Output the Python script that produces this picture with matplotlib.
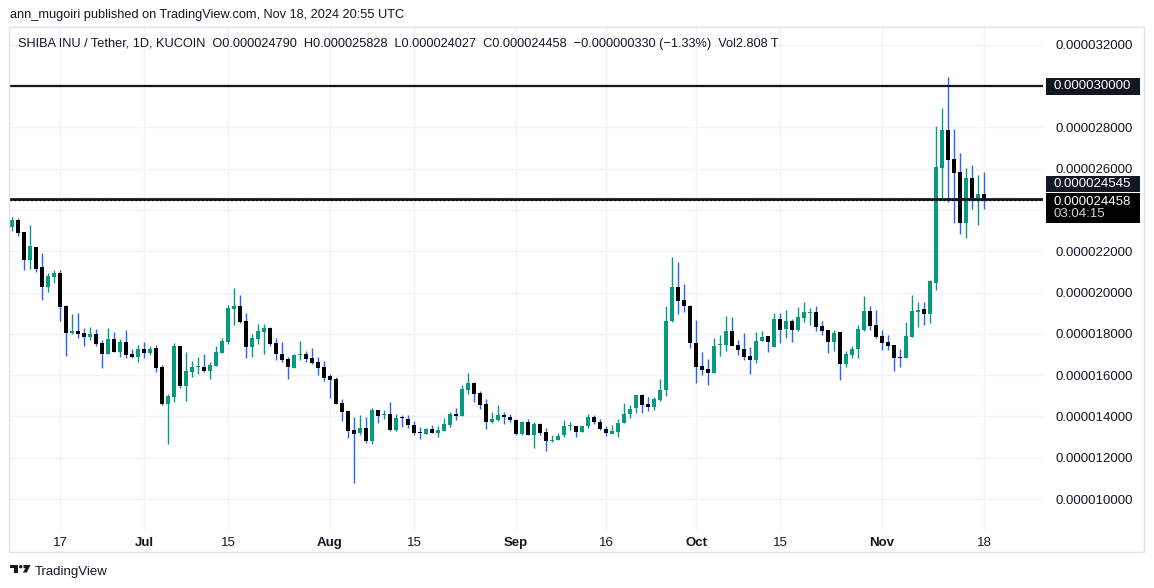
import matplotlib
matplotlib.use("Agg")
import matplotlib.pyplot as plt
import matplotlib.dates as mdates
import matplotlib.transforms as mtransforms
from matplotlib.patches import Rectangle, Polygon, Ellipse
import numpy as np
import pandas as pd

# prices in units of 1e-6 USDT
SCALE = 1e-6
first_day = "2024-06-09"

open_ = [
    23.18, 23.50, 22.92, 21.58, 22.19, 21.23, 20.27, 20.76, 20.94, 19.34,
    18.05, 18.13, 18.03, 17.85, 17.98, 17.55, 17.03, 17.74, 17.13, 17.60,
    17.02, 16.89, 17.26, 17.08, 17.31, 16.39, 14.61, 14.95, 17.40, 15.48,
    16.16, 16.37, 16.39, 16.19, 16.45, 17.06, 17.60, 19.19, 19.34, 18.61,
    17.37, 17.74, 18.10, 18.27, 17.55, 17.02, 16.77, 16.34, 16.98, 17.02,
    16.82, 16.63, 16.39, 15.95, 15.81, 14.65, 14.26, 13.34, 13.19, 13.44,
    12.81, 14.31, 14.06, 14.11, 13.34, 13.94, 13.87, 13.58, 13.24, 13.15,
    13.39, 13.19, 13.29, 13.58, 14.11, 14.02, 15.27, 15.61, 15.13, 14.60,
    13.73, 13.82, 14.06, 13.98, 13.84, 13.13, 13.71, 13.08, 13.61, 13.23,
    12.79, 12.84, 13.08, 13.52, 13.55, 13.23, 13.52, 13.98, 13.74, 13.40,
    13.13, 13.27, 13.66, 14.10, 14.39, 15.02, 14.58, 14.48, 14.81, 15.26,
    18.63, 20.27, 19.65, 19.35, 17.56, 16.42, 16.31, 16.08, 17.45, 17.44,
    18.15, 17.47, 17.27, 16.94, 16.74, 17.65, 17.89, 17.37, 18.71, 18.23,
    18.61, 18.18, 18.76, 19.02, 19.05, 18.37, 18.18, 17.60, 18.08, 16.53,
    16.97, 17.26, 18.18, 19.10, 18.42, 17.89, 17.60, 17.45, 16.85, 16.82,
    17.84, 19.05, 19.19, 18.98, 20.46, 26.05, 27.87, 26.47, 25.85, 23.35,
    25.56, 24.56, 24.790,
]
high = [
    23.68, 23.63, 22.95, 23.26, 22.19, 21.90, 20.97, 21.08, 21.08, 19.42,
    18.95, 19.00, 18.27, 18.32, 18.23, 17.68, 18.27, 18.08, 17.74, 18.18,
    17.26, 17.45, 17.60, 17.40, 17.45, 16.48, 15.08, 17.55, 17.40, 17.11,
    16.68, 16.87, 17.02, 16.63, 17.40, 17.79, 19.39, 20.21, 19.87, 19.00,
    17.98, 18.47, 18.47, 18.32, 17.79, 17.60, 16.87, 17.02, 17.65, 17.16,
    17.31, 16.87, 16.68, 16.05, 15.90, 14.84, 14.31, 13.97, 14.06, 13.97,
    14.40, 14.31, 14.31, 14.69, 14.11, 14.06, 14.06, 13.77, 13.48, 13.44,
    13.58, 13.53, 13.92, 14.21, 14.40, 15.52, 16.10, 15.66, 15.23, 14.84,
    14.21, 14.55, 14.21, 14.13, 13.89, 13.76, 13.89, 13.71, 13.66, 13.44,
    13.08, 13.21, 13.81, 13.71, 13.55, 13.55, 14.13, 14.08, 13.89, 13.55,
    13.60, 13.89, 14.63, 14.53, 15.06, 15.11, 14.92, 14.92, 15.79, 19.35,
    21.73, 21.48, 20.42, 19.40, 18.68, 17.13, 16.79, 17.81, 17.95, 18.87,
    18.82, 17.71, 18.05, 17.37, 18.10, 18.13, 17.89, 19.00, 19.00, 19.15,
    18.71, 19.29, 19.53, 19.24, 19.34, 18.61, 18.18, 18.18, 18.08, 17.16,
    17.40, 18.42, 19.82, 19.34, 19.15, 18.18, 17.94, 17.45, 17.26, 18.56,
    19.87, 19.53, 19.53, 20.60, 28.06, 28.93, 30.43, 27.92, 26.76, 26.04,
    26.18, 25.70, 25.828,
]
low = [
    22.98, 22.74, 21.10, 21.13, 21.00, 19.65, 20.03, 20.44, 18.63, 16.94,
    18.00, 17.81, 17.42, 17.71, 17.42, 16.35, 17.03, 17.13, 16.89, 16.84,
    16.84, 16.65, 16.84, 16.98, 16.16, 14.56, 12.66, 14.71, 15.39, 14.76,
    15.92, 16.06, 16.16, 15.82, 16.45, 17.06, 17.50, 18.44, 18.53, 16.84,
    16.89, 17.50, 17.02, 17.42, 16.73, 16.65, 15.81, 16.34, 16.73, 16.63,
    16.53, 16.00, 15.71, 14.89, 14.60, 13.77, 12.95, 10.79, 13.10, 12.71,
    12.66, 13.68, 13.87, 13.29, 13.29, 13.48, 13.44, 13.10, 12.90, 13.15,
    13.19, 13.00, 13.29, 13.48, 13.82, 14.02, 15.08, 14.69, 14.35, 13.39,
    13.68, 13.77, 13.63, 13.71, 13.08, 13.08, 13.08, 12.45, 13.08, 12.35,
    12.74, 12.84, 12.98, 13.32, 12.98, 13.23, 13.42, 13.61, 13.32, 13.03,
    13.13, 12.98, 13.66, 13.90, 14.15, 14.19, 14.24, 14.29, 14.77, 14.97,
    18.58, 18.97, 19.06, 17.32, 15.60, 16.03, 15.50, 16.08, 16.95, 17.15,
    17.42, 16.98, 16.74, 16.06, 16.60, 17.65, 17.11, 17.37, 17.55, 17.79,
    17.60, 18.13, 18.56, 18.42, 18.13, 17.94, 17.06, 17.16, 15.76, 16.39,
    16.82, 16.82, 18.13, 18.18, 17.79, 17.21, 17.21, 16.19, 16.39, 16.82,
    17.84, 18.32, 18.42, 18.53, 20.12, 24.50, 24.37, 23.35, 22.82, 22.63,
    24.03, 23.26, 24.027,
]
close = [
    23.50, 22.89, 21.58, 22.24, 21.15, 20.27, 20.79, 20.94, 19.31, 18.05,
    18.13, 18.00, 17.85, 17.98, 17.52, 17.03, 17.74, 17.13, 17.60, 16.98,
    16.89, 17.26, 17.08, 17.26, 16.35, 14.61, 14.98, 17.40, 15.48, 16.19,
    16.39, 16.39, 16.19, 16.48, 17.11, 17.65, 19.24, 19.34, 18.58, 17.37,
    17.79, 18.13, 18.27, 17.50, 17.02, 16.73, 16.39, 16.98, 17.00, 16.77,
    16.58, 16.34, 15.85, 15.76, 14.60, 14.21, 13.29, 13.15, 13.44, 12.81,
    14.31, 14.02, 14.08, 13.34, 13.92, 13.92, 13.58, 13.19, 13.21, 13.39,
    13.19, 13.34, 13.63, 14.11, 14.02, 15.32, 15.61, 15.08, 14.55, 13.73,
    13.87, 14.06, 13.97, 13.81, 13.13, 13.71, 13.08, 13.61, 13.18, 12.79,
    12.87, 13.06, 13.55, 13.55, 13.23, 13.55, 13.98, 13.71, 13.37, 13.18,
    13.31, 13.69, 14.13, 14.37, 15.02, 14.53, 14.48, 14.85, 15.29, 18.63,
    20.27, 19.60, 19.35, 17.56, 16.37, 16.27, 16.08, 17.42, 17.47, 18.15,
    17.42, 17.23, 16.89, 16.74, 17.66, 17.84, 17.60, 18.71, 18.18, 18.61,
    18.18, 18.81, 19.05, 19.05, 18.32, 18.13, 17.60, 18.03, 16.53, 17.02,
    17.26, 18.23, 19.10, 18.37, 17.84, 17.55, 17.40, 16.82, 16.82, 17.89,
    19.10, 19.15, 18.95, 20.54, 26.09, 27.87, 26.44, 25.81, 23.35, 25.56,
    24.56, 24.78, 24.458,
]

price_ticks = [10, 12, 14, 16, 18, 20, 22, 24, 26, 28, 30, 32]
hidden_ticks = [24, 30]
resistance = 30.0
support = 24.545
last_close = 24.458
countdown = "03:04:15"

tick_dates = ["2024-06-17", "2024-07-01", "2024-07-15", "2024-08-01", "2024-08-15",
              "2024-09-01", "2024-09-16", "2024-10-01", "2024-10-15", "2024-11-01",
              "2024-11-18"]
tick_labels = ["17", "Jul", "15", "Aug", "15", "Sep", "16", "Oct", "15", "Nov", "18"]

header = ("SHIBA INU / Tether, 1D, KUCOIN  O0.000024790  H0.000025828  "
          "L0.000024027  C0.000024458  \u22120.000000330 (\u22121.33%)  Vol2.808 T")
published = "ann_mugoiri published on TradingView.com, Nov 18, 2024 20:55 UTC"

UP = "#089981"
DOWN_BODY = "#000000"
DOWN_WICK = "#2962ff"
TEXT = "#131722"
GRID = "#f0f3fa"

plt.rcParams["font.family"] = ["Liberation Sans", "DejaVu Sans"]

W, H = 1154, 588
fig = plt.figure(figsize=(W / 100, H / 100), dpi=100)


def px(x0, y0, x1, y1):
    return [x0 / W, 1 - y1 / H, (x1 - x0) / W, (y1 - y0) / H]


ax = fig.add_axes(px(10, 27, 1043, 530))

dates = pd.date_range(first_day, periods=len(close))
x = mdates.date2num(dates.to_pydatetime())
o = np.array(open_)
c = np.array(close)
hi = np.array(high)
lo = np.array(low)
up = c >= o

ax.vlines(x, lo, hi, colors=np.where(up, UP, DOWN_WICK), linewidth=1, zorder=3)
bottoms = np.minimum(o, c)
heights = np.maximum(np.abs(c - o), 0.06)
ax.bar(x, heights, bottom=bottoms, width=0.82,
       color=np.where(up, UP, DOWN_BODY), linewidth=0, zorder=4)

# level lines
ax.axhline(resistance, color=TEXT, linewidth=1.6, zorder=5)
ax.axhline(support, color=TEXT, linewidth=2.0, zorder=5)
ax.axhline(last_close, color="#000000", linewidth=1.0, linestyle=(0, (1, 2)), zorder=5)

last = x[-1]
ax.set_xlim(last - 162.33, last + 9.83)
ax.set_ylim(8.50, 32.86)

ax.set_yticks(price_ticks)
ax.set_yticklabels(["" if t in hidden_ticks else f"{t * SCALE:.9f}" for t in price_ticks])
ax.yaxis.tick_right()
ax.tick_params(axis="y", length=0, pad=9, labelsize=9.5, labelcolor=TEXT)

tx = mdates.date2num(pd.to_datetime(tick_dates).to_pydatetime())
ax.set_xticks(tx)
ax.set_xticklabels(tick_labels)
ax.tick_params(axis="x", length=0, pad=5, labelsize=9.5, labelcolor=TEXT)
for lab in ax.get_xticklabels():
    if not lab.get_text().isdigit():
        lab.set_fontweight("bold")

ax.grid(True, color=GRID, linewidth=1, zorder=0)
ax.set_axisbelow(True)
for s in ax.spines.values():
    s.set_visible(False)

# price boxes on the right scale (offsets in pixels, positive = up)
trans = mtransforms.blended_transform_factory(ax.transAxes, ax.transData)
bx0 = (1046 - 10) / 1033
bw = (1140 - 1046) / 1033
tx0 = (1054 - 10) / 1033
unit = 1 / 20.65  # price units per pixel


def price_box(price, top_px, bot_px, face, lines):
    y_top = price + top_px * unit
    y_bot = price + bot_px * unit
    ax.add_patch(Rectangle((bx0, y_bot), bw, y_top - y_bot, transform=trans,
                           facecolor=face, edgecolor="none", clip_on=False, zorder=10))
    for txt, col, off in lines:
        ax.text(tx0, price + off * unit, txt, transform=trans, color=col,
                fontsize=9.5, va="center", ha="left", clip_on=False, zorder=11)


price_box(resistance, 8, -8.5, TEXT, [(f"{resistance * SCALE:.9f}", "white", 0)])
price_box(support, 22.8, 6.6, TEXT, [(f"{support * SCALE:.9f}", "white", 14.4)])
price_box(last_close, 7.6, -22.9, "#000000",
          [(f"{last_close * SCALE:.9f}", "white", -1.2), (countdown, "#d1d4dc", -13.9)])

# outer frame
fig.patches.append(Rectangle((9 / W, 1 - 552 / H), (1144 - 9) / W, (552 - 27) / H,
                             transform=fig.transFigure, fill=False,
                             edgecolor="#e0e3eb", linewidth=1))

fig.text(10 / W, 1 - 15 / H, published, fontsize=9.15, color=TEXT, va="center")
fig.text(18 / W, 1 - 44 / H, header, fontsize=9.2, color=TEXT, va="center")


# TradingView logo mark
def fpt(pts):
    return [(a / W, 1 - b / H) for a, b in pts]


logo = dict(transform=fig.transFigure, facecolor=TEXT, edgecolor="none")
fig.patches.append(Polygon(fpt([(10, 565), (17.5, 565), (17.5, 572.5), (14, 572.5),
                                (14, 568.2), (10, 568.2)]), **logo))
fig.patches.append(Ellipse((20.7 / W, 1 - 566.7 / H), 3.4 / W, 3.4 / H, **logo))
fig.patches.append(Polygon(fpt([(23.5, 565), (30.5, 565), (26.8, 572.5), (23, 572.5),
                                (25.4, 568.2), (23.5, 568.2)]), **logo))
fig.text(35 / W, 1 - 572 / H, "TradingView", fontsize=9.5, color=TEXT, va="center")

fig.savefig("out.png", dpi=100, facecolor="white")
